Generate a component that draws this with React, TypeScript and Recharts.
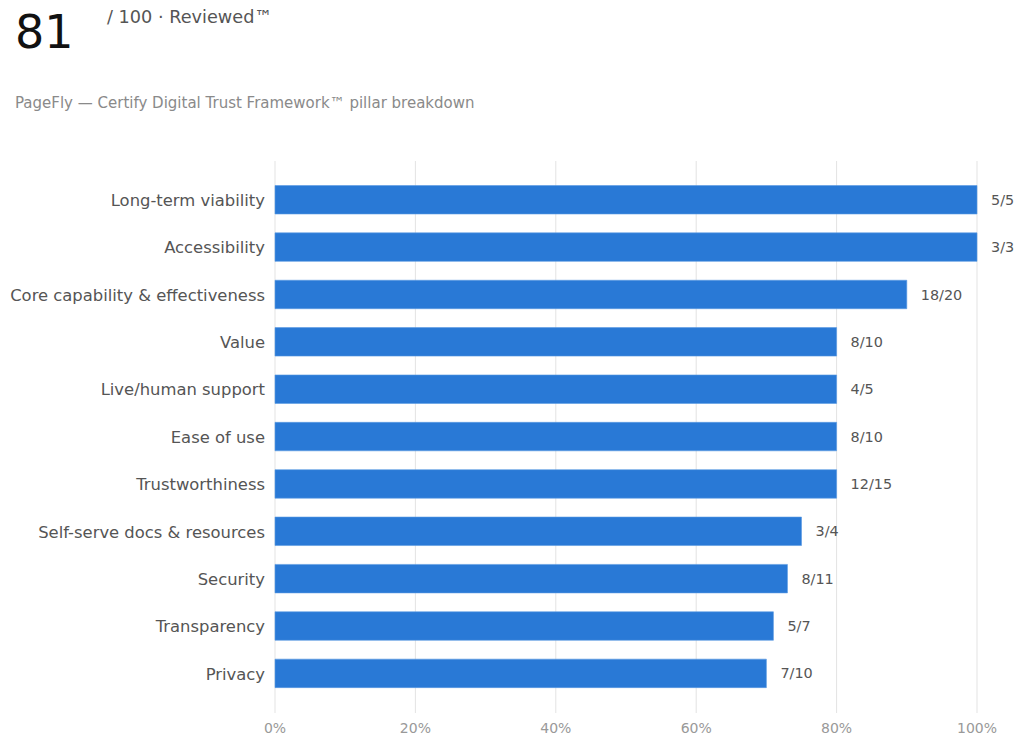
import React from "react";
import { BarChart, Bar, XAxis, YAxis, CartesianGrid, LabelList } from "recharts";

const categories = [
  "Long-term viability",
  "Accessibility",
  "Core capability & effectiveness",
  "Value",
  "Live/human support",
  "Ease of use",
  "Trustworthiness",
  "Self-serve docs & resources",
  "Security",
  "Transparency",
  "Privacy",
];
const scores = [5, 3, 18, 8, 4, 8, 12, 3, 8, 5, 7];
const maxima = [5, 3, 20, 10, 5, 10, 15, 4, 11, 7, 10];
const xTicks = [0, 20, 40, 60, 80, 100];

const data = categories.map((name, i) => ({
  name,
  pct: Math.round((scores[i] / maxima[i]) * 100),
  label: `${scores[i]}/${maxima[i]}`,
}));

const FONT = "'DejaVu Sans', sans-serif";

export default function App() {
  return (
    <div style={{ position: "absolute", left: 0, top: 0, width: 1024, height: 746, background: "#fff", fontFamily: FONT }}>
      <div style={{ position: "absolute", left: 15, top: 4, fontSize: 46, color: "#111", lineHeight: "56px" }}>81</div>
      <div style={{ position: "absolute", left: 107, top: 6, fontSize: 17.7, color: "#555", lineHeight: "22px" }}>/ 100 · Reviewed™</div>
      <div style={{ position: "absolute", left: 15, top: 93, fontSize: 15, color: "#8a8a8a", lineHeight: "20px" }}>
        PageFly — Certify Digital Trust Framework™ pillar breakdown
      </div>
      <div style={{ position: "absolute", left: 0, top: 0 }}>
        <BarChart
          width={1024}
          height={746}
          data={data}
          layout="vertical"
          margin={{ top: 161, right: 47, bottom: 3, left: 0 }}
        >
          <CartesianGrid horizontal={false} stroke="#e3e3e3" strokeWidth={1} />
          <XAxis
            type="number"
            domain={[0, 100]}
            ticks={xTicks}
            tickFormatter={(v: number) => `${v}%`}
            axisLine={false}
            tickLine={false}
            tickSize={0}
            tickMargin={10}
            height={30}
            tick={{ fill: "#999", fontSize: 14, fontFamily: FONT }}
            interval={0}
          />
          <YAxis
            type="category"
            dataKey="name"
            width={275}
            axisLine={false}
            tickLine={false}
            tickSize={0}
            tickMargin={10}
            padding={{ top: 15.5, bottom: 15.5 }}
            tick={{ fill: "#555", fontSize: 16.4, fontFamily: FONT }}
            interval={0}
          />
          <Bar dataKey="pct" fill="#2979d6" stroke="#5b9be3" strokeWidth={0.6} barSize={28.5} isAnimationActive={false}>
            <LabelList dataKey="label" position="right" offset={14} fill="#555" fontSize={14.4} fontFamily={FONT} />
          </Bar>
        </BarChart>
      </div>
    </div>
  );
}
